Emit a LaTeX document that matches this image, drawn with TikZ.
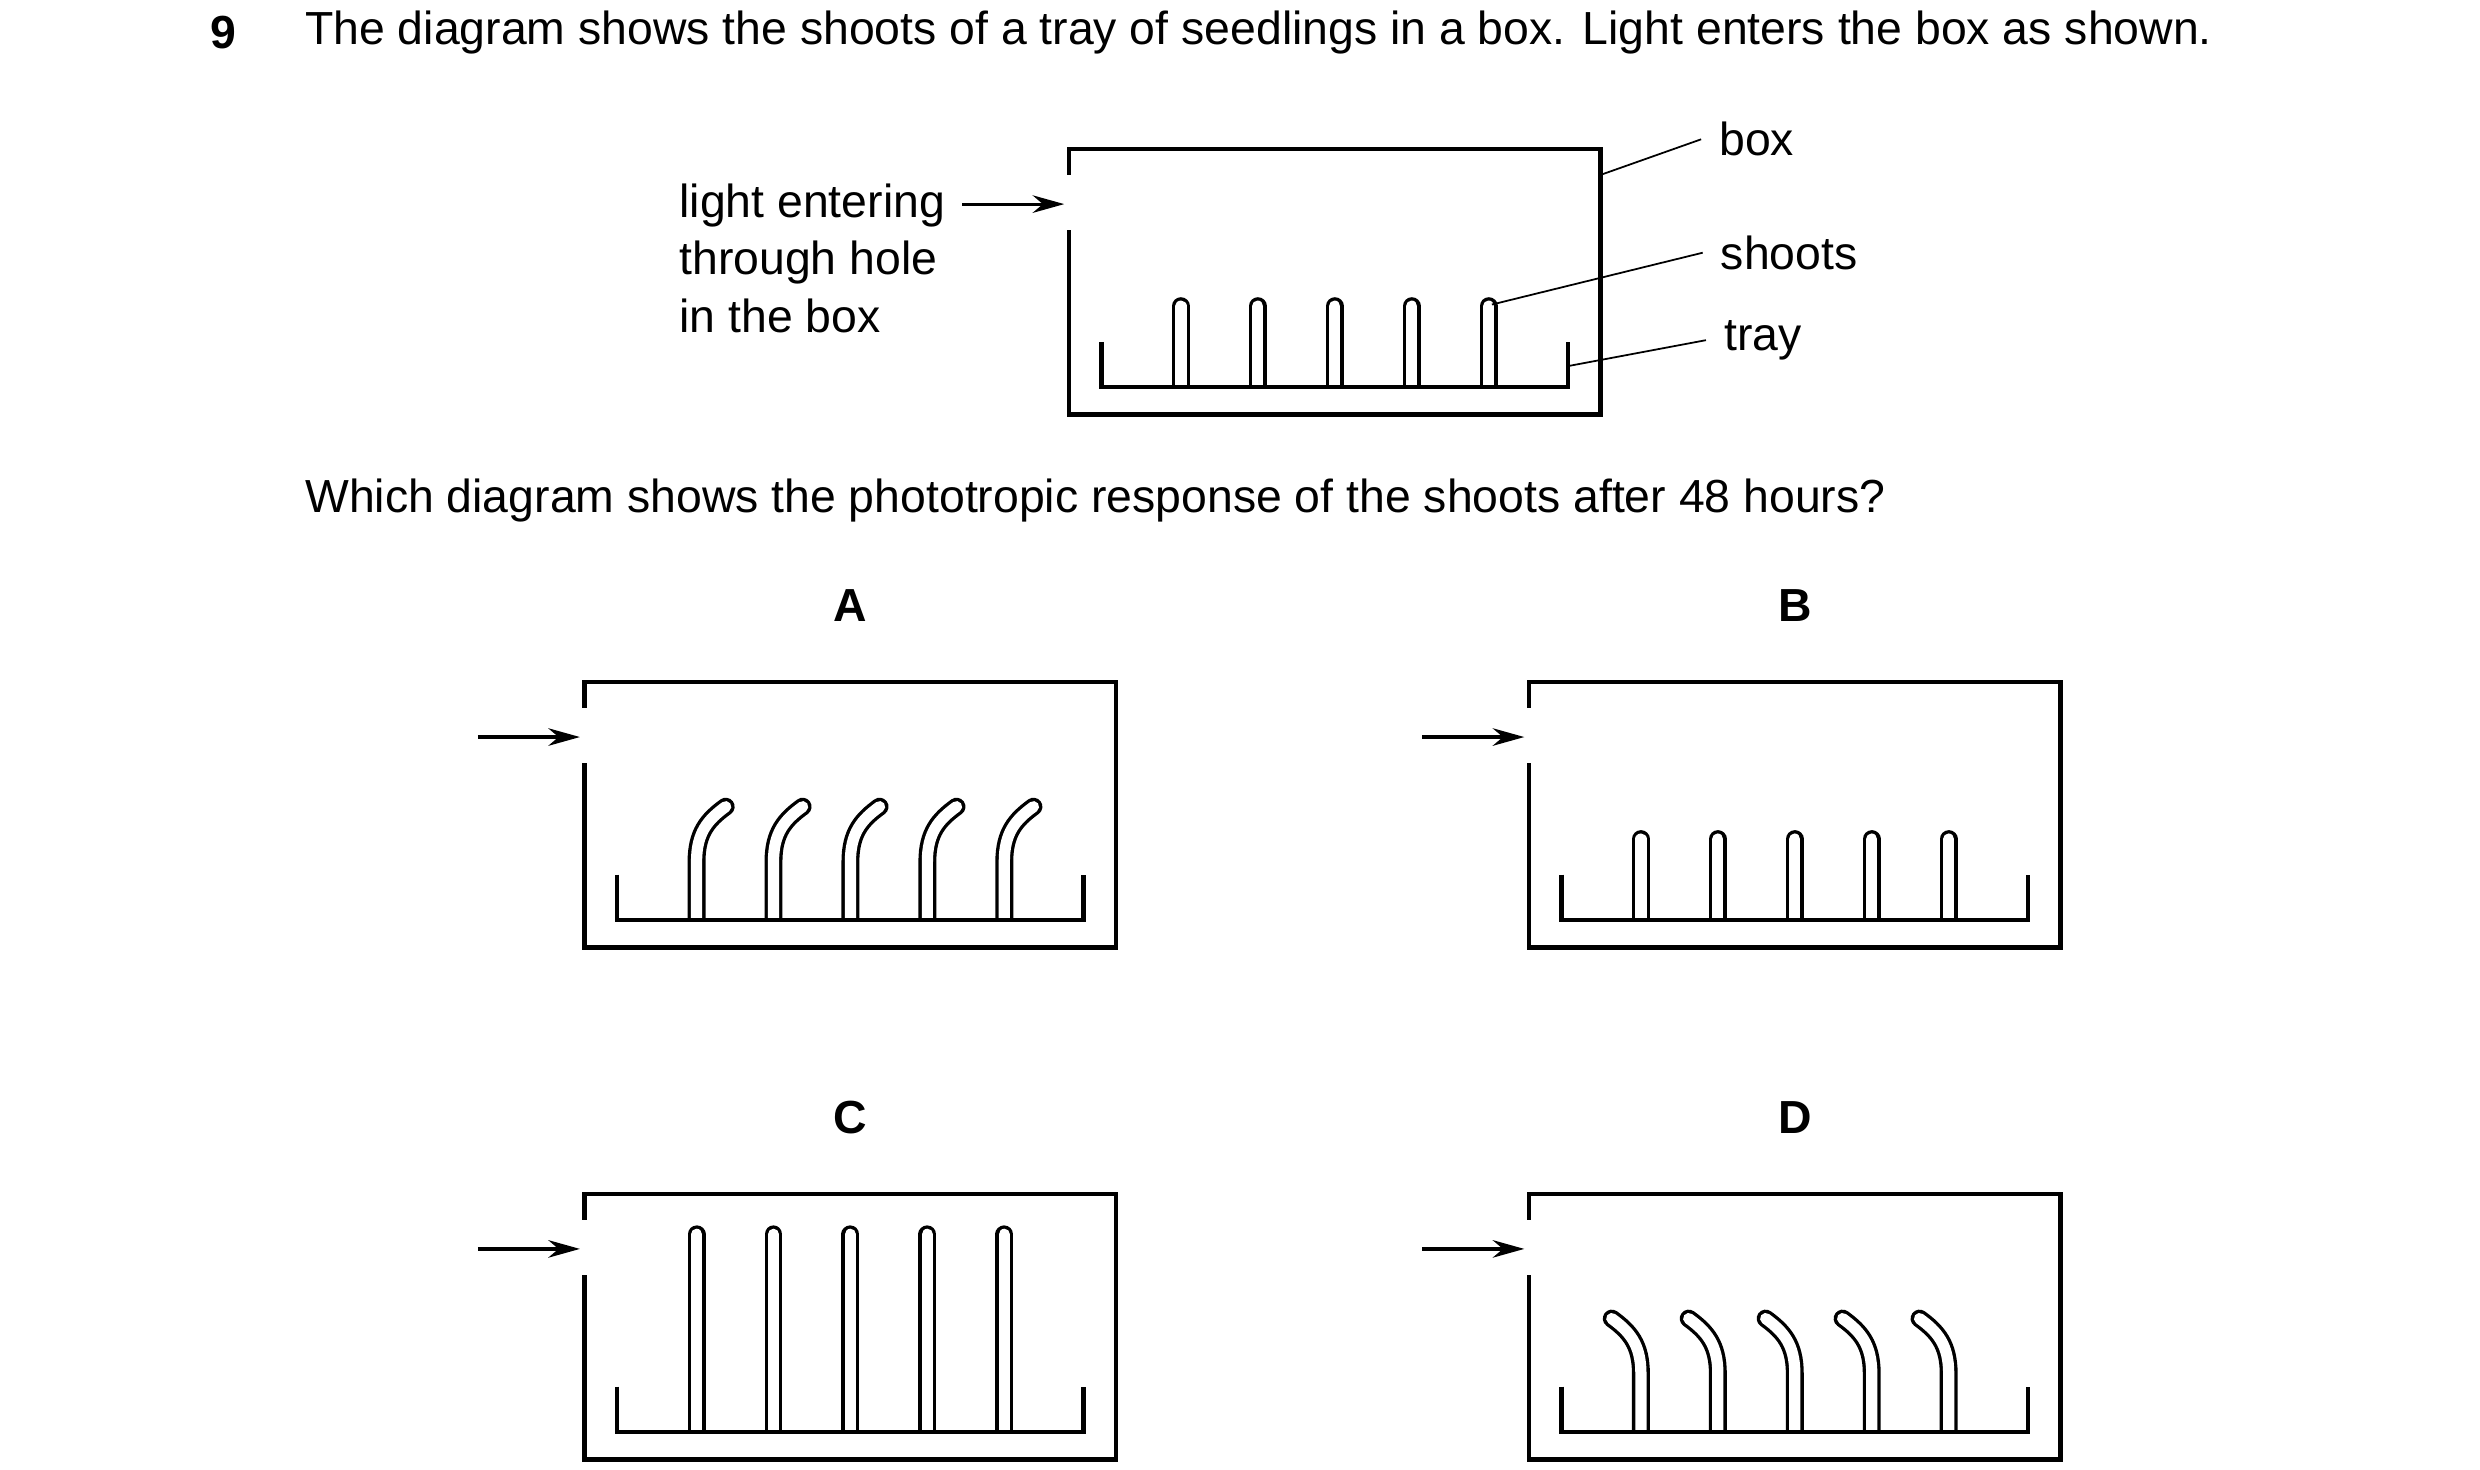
\documentclass[tikz,border=0pt]{standalone}
\usepackage{fontspec}
\setmainfont{Liberation Sans}
\usetikzlibrary{arrows.meta}
\begin{document}
\begin{tikzpicture}
  [
    x=0.0162cm, y=-0.0162cm,
    txt/.style={font=\fontsize{13.2}{16.4}\selectfont, inner sep=0pt},
    caption/.style={txt, font=\fontsize{13.2}{16.4}\selectfont\bfseries},
    wall/.style={line width=1.3pt, line join=miter},
    shoot/.style={line width=0.95pt, double=white, double distance=3.2pt, line cap=round},
    pointer/.style={line width=0.5pt},
    light/.style={line width=0.9pt, -{Stealth[length=9pt,width=5pt]}}
  ]
  \useasboundingbox (0,0) rectangle (1531,907);

  % question text
  \node [caption] (num) at (138,20) {9};
  \node [txt, anchor=west] (head) at (188,20)
    {The diagram shows the shoots of a tray of seedlings in a box. Light enters the box as shown.};
  \node [txt, anchor=west] (ask) at (188,309)
    {Which diagram shows the phototropic response of the shoots after 48 hours?};

  % boxes with hole and tray
  \foreach \bx/\by in {660/92, 361/421, 944/421, 361/737, 944/737} {
      \draw [wall] (\bx,\by+16) -- (\bx,\by) -- (\bx+328,\by) -- (\bx+328,\by+164)
        -- (\bx,\by+164) -- (\bx,\by+50);
  }

  % shoots: short and straight (top diagram, B)
  \foreach \bx/\by in {660/92, 944/421} {
    \foreach \i in {0,...,4} {
      \draw [shoot] (\bx+69+47.5*\i,\by+147) -- (\bx+69+47.5*\i,\by+97);
    }
  }
  % tall (C)
  \foreach \i in {0,...,4} {
    \draw [shoot] (430+47.5*\i,884) -- (430+47.5*\i,762);
  }
  % bent towards the light (A)
  \foreach \i in {0,...,4} {
    \draw [shoot] (430+47.5*\i,568) -- (430+47.5*\i,532)
      .. controls (430+47.5*\i,514) and (437+47.5*\i,506) .. (448+47.5*\i,498);
  }
  % bent away from the light (D)
  \foreach \i in {0,...,4} {
    \draw [shoot] (1203-47.5*\i,884) -- (1203-47.5*\i,848)
      .. controls (1203-47.5*\i,830) and (1196-47.5*\i,822) .. (1185-47.5*\i,814);
  }

  % trays
  \foreach \bx/\by in {660/92, 361/421, 944/421, 361/737, 944/737} {
      \fill [white] (\bx+22,\by+148) rectangle (\bx+306,\by+158);
      \draw [wall] (\bx+20,\by+119) -- (\bx+20,\by+147) -- (\bx+308,\by+147) -- (\bx+308,\by+119);
  }

  % light arrows
  \foreach \bx/\by/\nm in {361/421/a, 944/421/b, 361/737/c, 944/737/d} {
      \coordinate (in-\nm) at (\bx-66,\by+34);
      \coordinate (hole-\nm) at (\bx-3,\by+34);
      \draw [light] (in-\nm) -- (hole-\nm);
  }

  % panel letters
  \node [caption] (capA) at (525,374) {A};
  \node [caption] (capB) at (1108,374) {B};
  \node [caption] (capC) at (525,690) {C};
  \node [caption] (capD) at (1108,690) {D};

  % labels of the top diagram
  \node [txt, anchor=north west, align=left] (lightlab) at (419,113)
    {light entering\\through hole\\in the box};
  \coordinate (lightend) at (594,126);
  \coordinate (lighthole) at (657,126);
  \draw [light] (lightend) -- (lighthole);

  \node [txt, anchor=west] (boxlab) at (1061,86) {box};
  \node [txt, anchor=west] (shootlab) at (1062,156) {shoots};
  \node [txt, anchor=west] (traylab) at (1064,210) {tray};
  \coordinate (boxedge) at (988,108);
  \coordinate (shoottip) at (921,188);
  \coordinate (trayedge) at (968,226);
  \draw [pointer] (boxedge) -- ([xshift=-5pt]boxlab.west);
  \draw [pointer] (shoottip) -- ([xshift=-5pt]shootlab.west);
  \draw [pointer] (trayedge) -- ([xshift=-5pt]traylab.west);
\end{tikzpicture}
\end{document}
